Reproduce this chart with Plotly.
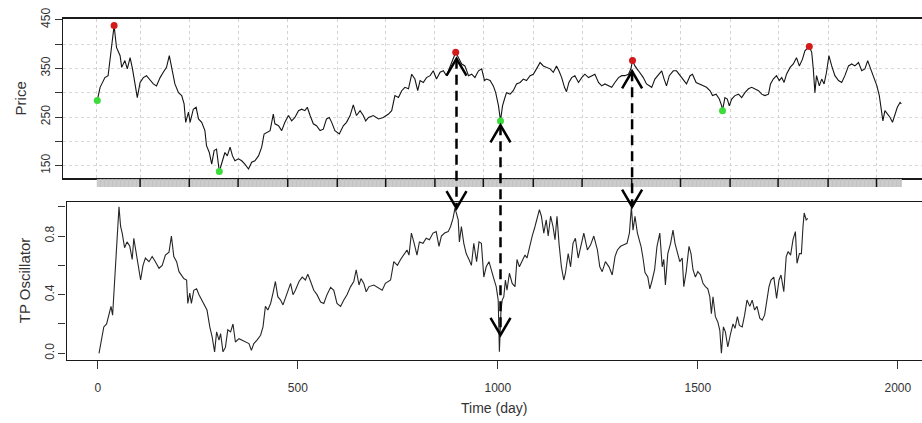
import plotly.graph_objects as go

# ---------------- data ----------------
price_days = [0, 7, 19, 27, 33, 42, 48, 57, 61, 69, 75, 82, 88, 94, 100, 107, 115, 123, 132, 140,
              148, 157, 165, 173, 180, 186, 194, 203, 211, 217, 221, 228, 232, 240, 247, 253, 261, 269, 273, 280,
              286, 292, 298, 305, 311, 319, 325, 332, 338, 344, 353, 361, 369, 378, 386, 394, 403, 411, 417, 423,
              432, 440, 444, 453, 461, 469, 478, 486, 494, 503, 511, 519, 525, 532, 540, 548, 557, 565, 573, 580,
              586, 594, 605, 615, 623, 632, 640, 648, 657, 665, 671, 678, 690, 703, 715, 728, 736, 744, 753, 761,
              769, 778, 786, 794, 801, 807, 815, 823, 832, 840, 848, 857, 865, 873, 882, 890, 896, 903, 911, 919,
              928, 936, 944, 953, 961, 968, 973, 982, 990, 996, 1003, 1008, 1013, 1018, 1023, 1032, 1040, 1048, 1057, 1065,
              1073, 1082, 1090, 1098, 1107, 1115, 1123, 1132, 1140, 1148, 1154, 1161, 1168, 1173, 1179, 1186, 1194, 1203, 1211, 1219,
              1228, 1236, 1244, 1253, 1261, 1269, 1278, 1286, 1294, 1303, 1311, 1319, 1328, 1334, 1338, 1344, 1353, 1358, 1365, 1373,
              1386, 1394, 1403, 1411, 1417, 1423, 1430, 1440, 1448, 1457, 1465, 1473, 1482, 1488, 1497, 1507, 1515, 1523, 1532, 1538,
              1547, 1555, 1561, 1563, 1569, 1575, 1580, 1586, 1594, 1603, 1611, 1619, 1628, 1636, 1644, 1653, 1661, 1669, 1678, 1683,
              1690, 1698, 1705, 1711, 1717, 1723, 1732, 1740, 1748, 1755, 1763, 1769, 1780, 1786, 1790, 1794, 1798, 1805, 1811, 1817,
              1823, 1829, 1836, 1844, 1853, 1861, 1869, 1878, 1886, 1894, 1903, 1911, 1919, 1926, 1932, 1940, 1949, 1955, 1959, 1964,
              1969, 1975, 1982, 1988, 1994, 2000, 2007, 2010]
price_vals = [284, 311, 331, 335, 376, 438, 393, 376, 352, 366, 349, 372, 349, 321, 290, 321, 331, 335, 325, 318,
              314, 331, 342, 352, 376, 349, 318, 300, 294, 277, 239, 260, 239, 266, 270, 246, 239, 222, 191, 177,
              153, 181, 184, 138, 153, 177, 170, 188, 170, 160, 164, 160, 153, 143, 157, 160, 170, 188, 215, 218,
              222, 256, 236, 232, 222, 239, 253, 242, 249, 263, 266, 263, 270, 253, 236, 232, 222, 225, 246, 249,
              239, 222, 215, 232, 239, 253, 275, 253, 263, 253, 242, 249, 253, 246, 249, 256, 263, 294, 290, 304,
              311, 308, 338, 328, 304, 325, 321, 331, 335, 345, 328, 342, 345, 335, 355, 372, 383, 372, 359, 355,
              335, 338, 331, 345, 349, 325, 328, 325, 314, 300, 273, 242, 273, 287, 300, 297, 304, 318, 321, 328,
              325, 335, 338, 349, 362, 355, 352, 349, 342, 355, 345, 331, 311, 302, 321, 331, 335, 321, 331, 338,
              331, 335, 338, 321, 314, 318, 314, 311, 321, 331, 335, 335, 338, 349, 366, 355, 345, 340, 331, 318,
              311, 328, 338, 345, 328, 314, 335, 345, 345, 335, 328, 318, 335, 338, 321, 318, 314, 311, 304, 294,
              297, 287, 273, 263, 290, 287, 273, 287, 294, 297, 290, 300, 308, 311, 308, 304, 297, 294, 297, 318,
              328, 335, 325, 331, 321, 338, 352, 359, 372, 355, 369, 386, 395, 383, 349, 300, 335, 314, 328, 318,
              342, 376, 355, 335, 325, 321, 335, 355, 359, 355, 362, 345, 349, 366, 352, 335, 314, 294, 273, 242,
              263, 256, 249, 239, 256, 270, 280, 277]

osc_days = [3, 11, 15, 22, 28, 33, 37, 42, 45, 48, 53, 57, 61, 67, 73, 80, 86, 90, 97, 103,
            107, 113, 119, 128, 136, 144, 153, 161, 169, 178, 184, 190, 197, 203, 208, 215, 222, 225, 230, 234,
            240, 247, 253, 261, 267, 273, 280, 286, 292, 297, 303, 307, 313, 319, 325, 332, 338, 344, 353, 361,
            369, 378, 384, 390, 398, 407, 413, 419, 425, 432, 438, 444, 450, 457, 463, 469, 475, 482, 488, 494,
            503, 511, 519, 525, 532, 540, 548, 557, 565, 573, 582, 590, 598, 607, 615, 623, 632, 640, 646, 653,
            658, 665, 671, 678, 690, 703, 711, 719, 732, 740, 749, 757, 765, 773, 778, 784, 790, 798, 804, 813,
            821, 829, 838, 846, 853, 859, 867, 876, 882, 888, 893, 896, 901, 904, 909, 915, 921, 928, 934, 940,
            947, 953, 959, 965, 971, 978, 984, 990, 996, 1001, 1004, 1008, 1011, 1015, 1019, 1023, 1029, 1036, 1043, 1048,
            1054, 1061, 1068, 1073, 1079, 1086, 1093, 1098, 1104, 1109, 1115, 1121, 1126, 1132, 1138, 1143, 1148, 1153, 1159, 1165,
            1169, 1176, 1182, 1188, 1194, 1201, 1207, 1215, 1224, 1232, 1240, 1249, 1255, 1261, 1269, 1278, 1286, 1293, 1299, 1307,
            1315, 1323, 1329, 1334, 1338, 1343, 1349, 1354, 1358, 1363, 1368, 1375, 1380, 1386, 1392, 1398, 1405, 1411, 1415, 1419,
            1425, 1432, 1438, 1443, 1448, 1455, 1461, 1465, 1471, 1478, 1483, 1488, 1494, 1500, 1507, 1513, 1519, 1525, 1530, 1534,
            1538, 1544, 1550, 1555, 1559, 1564, 1569, 1575, 1582, 1588, 1593, 1599, 1604, 1611, 1617, 1623, 1630, 1636, 1642, 1648,
            1655, 1661, 1667, 1672, 1678, 1683, 1690, 1697, 1703, 1708, 1715, 1721, 1726, 1732, 1738, 1744, 1748, 1754, 1759, 1763,
            1766, 1771, 1775]
osc_vals = [0.0, 0.135, 0.18, 0.20, 0.27, 0.32, 0.26, 0.52, 0.64, 0.80, 1.0, 0.865, 0.82, 0.72, 0.76, 0.73, 0.64, 0.785, 0.66, 0.57,
            0.50, 0.60, 0.65, 0.625, 0.66, 0.625, 0.58, 0.60, 0.67, 0.69, 0.80, 0.66, 0.625, 0.557, 0.534, 0.51, 0.50, 0.34, 0.41, 0.34,
            0.43, 0.44, 0.40, 0.36, 0.32, 0.295, 0.18, 0.11, 0.01, 0.146, 0.09, 0.135, 0.01, 0.04, 0.16, 0.146, 0.20, 0.077, 0.10, 0.09,
            0.077, 0.066, 0.02, 0.066, 0.09, 0.123, 0.18, 0.32, 0.295, 0.34, 0.41, 0.49, 0.386, 0.363, 0.33, 0.375, 0.42, 0.477, 0.40, 0.43,
            0.49, 0.52, 0.50, 0.54, 0.49, 0.43, 0.40, 0.35, 0.34, 0.40, 0.45, 0.43, 0.34, 0.32, 0.363, 0.40, 0.455, 0.49, 0.57, 0.466,
            0.51, 0.477, 0.42, 0.455, 0.466, 0.44, 0.43, 0.477, 0.50, 0.625, 0.60, 0.64, 0.67, 0.705, 0.67, 0.82, 0.76, 0.67, 0.76, 0.75,
            0.785, 0.775, 0.82, 0.83, 0.73, 0.80, 0.82, 0.83, 0.865, 0.92, 0.99, 0.957, 0.91, 0.76, 0.865, 0.75, 0.68, 0.64, 0.60, 0.75,
            0.625, 0.76, 0.75, 0.52, 0.59, 0.625, 0.557, 0.51, 0.455, 0.363, 0.01, 0.295, 0.363, 0.386, 0.50, 0.43, 0.546, 0.477, 0.455, 0.64,
            0.59, 0.625, 0.67, 0.65, 0.73, 0.80, 0.865, 0.91, 0.98, 0.935, 0.82, 0.91, 0.80, 0.935, 0.865, 0.775, 0.935, 0.75, 0.59, 0.50,
            0.546, 0.68, 0.59, 0.75, 0.785, 0.65, 0.73, 0.82, 0.705, 0.74, 0.80, 0.705, 0.59, 0.557, 0.625, 0.59, 0.534, 0.66, 0.705, 0.73,
            0.74, 0.75, 0.82, 1.0, 0.84, 0.935, 0.82, 0.775, 0.73, 0.65, 0.55, 0.52, 0.44, 0.50, 0.57, 0.73, 0.82, 0.59, 0.64, 0.466,
            0.68, 0.75, 0.84, 0.75, 0.705, 0.625, 0.65, 0.455, 0.557, 0.73, 0.68, 0.57, 0.52, 0.557, 0.534, 0.477, 0.455, 0.44, 0.386, 0.27,
            0.386, 0.25, 0.214, 0.157, 0.0, 0.18, 0.146, 0.043, 0.135, 0.20, 0.17, 0.25, 0.19, 0.18, 0.26, 0.363, 0.32, 0.363, 0.295, 0.32,
            0.24, 0.226, 0.26, 0.363, 0.455, 0.50, 0.52, 0.375, 0.50, 0.534, 0.42, 0.66, 0.694, 0.67, 0.775, 0.83, 0.614, 0.68, 0.68, 0.865,
            0.957, 0.91, 0.92]

peak_days = [42, 896, 1338, 1780]
peak_vals = [438, 383, 366, 395]
trough_days = [0, 305, 1008, 1563]
trough_vals = [284, 138, 242, 263]

# date grid / major rug ticks (half-year marks) and the daily rug
grid_days = [-3, 107, 230, 352, 476, 600, 721, 844, 965, 1090, 1212, 1336, 1458, 1582, 1702, 1827, 1948]
rug_days = list(range(0, 2011, 2))

x_ticks = [0, 500, 1000, 1500, 2000]
price_ticks = [150, 200, 250, 300, 350, 400, 450]
price_labels = ["150", "", "250", "", "350", "", "450"]
osc_ticks = [0.0, 0.2, 0.4, 0.6, 0.8, 1.0]
osc_labels = ["0.0", "", "0.4", "", "0.8", ""]

# turning-point links: (day, price end, oscillator end)
arrow_links = [(898, 370, 0.99), (1008, 233, 0.125), (1337, 344, 1.0)]

# ---------------- layout geometry ----------------
W, H = 922, 423
top_xdom = [63 / W, 1.0]
top_xrng = [-85.75, 2061.75]
top_ydom = [1 - 177.7 / H, 1 - 19 / H]
top_yrng = [125.2, 451.5]
rug_ydom = [1 - 187 / H, 1 - 179 / H]
bot_xdom = [66.5 / W, 1.0]
bot_xrng = [-78.25, 2060.5]
bot_ydom = [1 - 359.5 / H, 1 - 201.5 / H]
bot_yrng = [-0.0423, 1.0355]


def to_paper(v, rng, dom):
    return dom[0] + (v - rng[0]) / (rng[1] - rng[0]) * (dom[1] - dom[0])


fig = go.Figure()

fig.add_trace(go.Scatter(x=price_days, y=price_vals, mode="lines",
                         line=dict(color="#151515", width=1.1), xaxis="x", yaxis="y",
                         showlegend=False, hoverinfo="skip"))
fig.add_trace(go.Scatter(x=peak_days, y=peak_vals, mode="markers",
                         marker=dict(color="#d41a1a", size=7), xaxis="x", yaxis="y",
                         showlegend=False))
fig.add_trace(go.Scatter(x=trough_days, y=trough_vals, mode="markers",
                         marker=dict(color="#3bdc3b", size=7), xaxis="x", yaxis="y",
                         showlegend=False))

# rug strip below the price panel
fig.add_trace(go.Scatter(x=rug_days, y=[0.5] * len(rug_days), mode="markers",
                         marker=dict(symbol="line-ns", size=8, line=dict(color="#c4c4c4", width=1)),
                         xaxis="x3", yaxis="y3", showlegend=False, hoverinfo="skip"))
fig.add_trace(go.Scatter(x=grid_days[1:], y=[0.5] * (len(grid_days) - 1), mode="markers",
                         marker=dict(symbol="line-ns", size=9, line=dict(color="#111111", width=1.5)),
                         xaxis="x3", yaxis="y3", showlegend=False, hoverinfo="skip"))

fig.add_trace(go.Scatter(x=osc_days, y=osc_vals, mode="lines",
                         line=dict(color="#262626", width=1.1), xaxis="x2", yaxis="y2",
                         showlegend=False, hoverinfo="skip"))

shapes = []
for day, p_end, o_end in arrow_links:
    yt = to_paper(p_end, top_yrng, top_ydom)
    yb = to_paper(o_end, bot_yrng, bot_ydom)
    shapes.append(dict(type="line", xref="x", yref="paper", x0=day, x1=day, y0=yt, y1=yb,
                       line=dict(color="black", width=2.5, dash="10px,6px")))
    shapes.append(dict(type="path", xref="x", yref="paper", xsizemode="pixel", ysizemode="pixel",
                       xanchor=day, yanchor=yt, path="M-10,-17 L0,0 L10,-17",
                       line=dict(color="black", width=2.5)))
    shapes.append(dict(type="path", xref="x", yref="paper", xsizemode="pixel", ysizemode="pixel",
                       xanchor=day, yanchor=yb, path="M-10,17 L0,0 L10,17",
                       line=dict(color="black", width=2.5)))

font = dict(family="Liberation Sans, Arial, sans-serif", size=12, color="#333333")

fig.update_layout(
    width=W, height=H,
    margin=dict(l=0, r=0, t=0, b=0, pad=0, autoexpand=False),
    paper_bgcolor="white", plot_bgcolor="white",
    font=font,
    showlegend=False,
    shapes=shapes,
    xaxis=dict(domain=top_xdom, range=top_xrng, anchor="y", showline=True, mirror=True,
               linecolor="#1a1a1a", linewidth=1.5, tickvals=grid_days, showticklabels=False,
               ticks="", showgrid=True, gridcolor="#d2d2d2", griddash="dot", gridwidth=1,
               zeroline=False, automargin=False),
    yaxis=dict(domain=top_ydom, range=top_yrng, anchor="x", showline=True, linecolor="#1a1a1a",
               linewidth=1.2, ticks="outside", ticklen=7, tickcolor="#333", tickvals=price_ticks,
               ticktext=price_labels, tickangle=-90, showgrid=True, gridcolor="#d8d8d8",
               griddash="dot", zeroline=False, automargin=False, ticklabeloverflow="allow",
               title=dict(text="Price", font=dict(size=15, color="#333"), standoff=8)),
    xaxis3=dict(domain=top_xdom, range=top_xrng, anchor="y3", visible=False, automargin=False),
    yaxis3=dict(domain=rug_ydom, range=[0, 1], anchor="x3", visible=False, automargin=False),
    xaxis2=dict(domain=bot_xdom, range=bot_xrng, anchor="y2", showline=True, mirror=True,
                linecolor="#1a1a1a", linewidth=1.2, ticks="outside", ticklen=8, tickcolor="#333",
                tickvals=x_ticks, showgrid=False, zeroline=False, automargin=False,
                ticklabelstandoff=9,
                title=dict(text="Time (day)", font=dict(size=14, color="#333"), standoff=9)),
    yaxis2=dict(domain=bot_ydom, range=bot_yrng, anchor="x2", showline=True, linecolor="#1a1a1a",
                linewidth=1.2, ticks="outside", ticklen=7, tickcolor="#333", tickvals=osc_ticks,
                ticktext=osc_labels, tickangle=-90, showgrid=False, zeroline=False, automargin=False,
                title=dict(text="TP Oscillator", font=dict(size=15, color="#333"), standoff=8)),
)

fig.write_html("out.html")
